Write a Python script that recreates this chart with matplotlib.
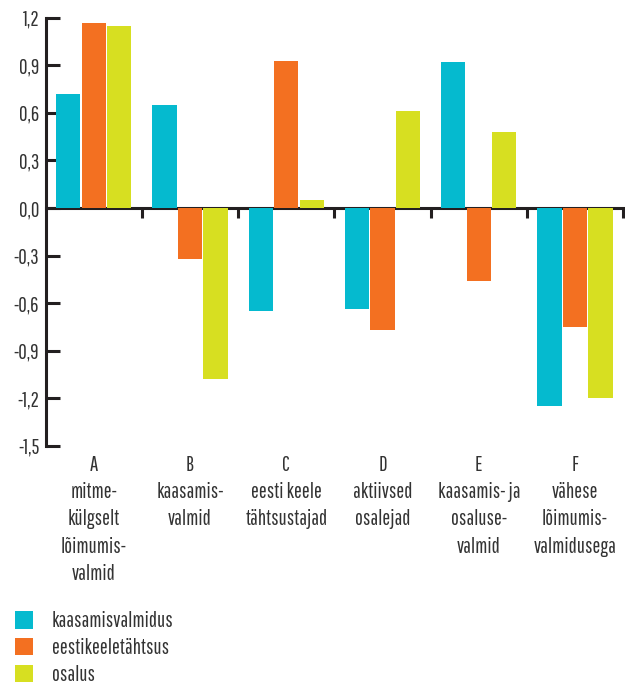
import matplotlib
matplotlib.use("Agg")
import matplotlib.pyplot as plt
import matplotlib.transforms as mtransforms
import numpy as np

plt.rcParams["font.family"] = ["Pathway Gothic One", "Barlow Condensed", "DejaVu Sans"]

groups = ["A", "B", "C", "D", "E", "F"]
group_names = [
    "mitme-\nkülgselt\nlõimumis-\nvalmid",
    "kaasamis-\nvalmid",
    "eesti keele\ntähtsustajad",
    "aktiivsed\nosalejad",
    "kaasamis- ja\nosaluse-\nvalmid",
    "vähese\nlõimumis-\nvalmidusega",
]
series = ["kaasamisvalmidus", "eestikeeletähtsus", "osalus"]
kaasamisvalmidus = [0.72, 0.65, -0.65, -0.64, 0.92, -1.25]
eestikeeletahtsus = [1.17, -0.32, 0.93, -0.77, -0.46, -0.75]
osalus = [1.15, -1.08, 0.05, 0.61, 0.48, -1.20]
yticks = [-1.5, -1.2, -0.9, -0.6, -0.3, 0.0, 0.3, 0.6, 0.9, 1.2]

colors = ["#05BACF", "#F37021", "#D7DF21"]
dark = "#231F20"
text_col = "#333333"
fs = 15

fig = plt.figure(figsize=(6.25, 6.83), dpi=100)
ax = fig.add_axes([0.073, 0.3474, 0.924, 0.6266])

x = np.arange(len(groups))
step = 0.265
width = 0.25
handles = []
for i, (vals, name) in enumerate(zip([kaasamisvalmidus, eestikeeletahtsus, osalus], series)):
    h = ax.bar(x + (i - 1) * step, vals, width, color=colors[i], label=name, zorder=3)
    handles.append(h)

ax.set_xlim(-0.5, 5.5)
ax.set_ylim(-1.5, 1.2)

# x axis sits on zero, with short ticks marking group boundaries
for side in ["top", "right"]:
    ax.spines[side].set_visible(False)
ax.spines["bottom"].set_position(("data", 0))
ax.spines["bottom"].set_color(dark)
ax.spines["bottom"].set_linewidth(2.2)
ax.spines["bottom"].set_zorder(2)
ax.spines["left"].set_color(dark)
ax.spines["left"].set_linewidth(2.2)
ax.set_xticks(np.arange(0.5, 6.0, 1.0))
ax.tick_params(axis="x", direction="out", length=7, width=2.2, color=dark,
               labelbottom=False)

ax.set_yticks(yticks)
ax.set_yticklabels([f"{v:.1f}".replace(".", ",") for v in yticks])
ax.tick_params(axis="y", direction="in", length=10, width=2.2, color=dark,
               labelsize=fs, labelcolor=text_col, pad=4.5)

# category labels under each group
trans = mtransforms.blended_transform_factory(ax.transData, fig.transFigure)
for gx, g, name in zip(x, groups, group_names):
    ax.text(gx, 1 - 455 / 683, g + "\n" + name, transform=trans, ha="center",
            va="top", fontsize=fs, color=text_col, linespacing=1.45)

fig.legend(handles=handles, loc="upper left", bbox_to_anchor=(15 / 625, 1 - 611 / 683),
           frameon=False, fontsize=fs, labelcolor=text_col, handlelength=0.87,
           handleheight=0.91, handletextpad=0.9, labelspacing=0.33,
           borderpad=0, borderaxespad=0)

fig.savefig("out.png", dpi=100)
